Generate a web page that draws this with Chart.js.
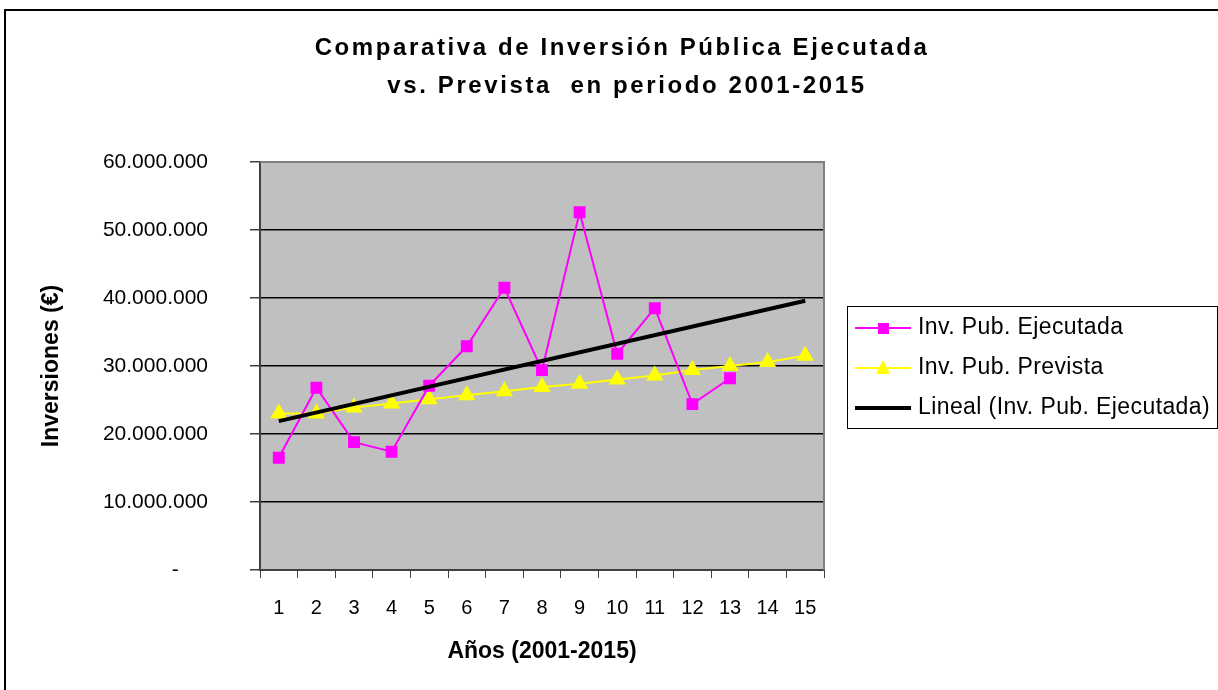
<!DOCTYPE html>
<html>
<head>
<meta charset="utf-8">
<script src="https://cdn.jsdelivr.net/npm/chart.js@4.4.1/dist/chart.umd.min.js"></script>
<style>
  html, body { margin: 0; padding: 0; background: #fff; }
  canvas { display: block; }
</style>
</head>
<body>
<canvas id="chart" width="1218" height="690"></canvas>
<script>
// Years 1..15 (2001-2015)
const years = ['1', '2', '3', '4', '5', '6', '7', '8', '9', '10', '11', '12', '13', '14', '15'];
// executed public investment (no data for 14, 15)
const ejecutada = [16500000, 26800000, 18800000, 17400000, 27100000, 32900000, 41500000, 29400000,
    52600000, 31800000, 38500000, 24400000, 28200000, null, null];
// planned public investment
const prevista = [23000000, 23000000, 23900000, 24500000, 25100000, 25700000, 26300000, 26900000,
    27400000, 28000000, 28600000, 29400000, 30000000, 30600000, 31500000];
// linear trend of the executed series, read at its two ends
const tendencia = [21900000, null, null, null, null, null, null, null,
    null, null, null, null, null, null, 39600000];
const yTicks = [0, 10000000, 20000000, 30000000, 40000000, 50000000, 60000000];
const titleLines = ['Comparativa de Inversión Pública Ejecutada', 'vs. Prevista  en periodo 2001-2015'];

const FONT = 'Liberation Sans, Arial, sans-serif';

const fmt = v => v === 0 ? '-     ' : v.toString().replace(/\B(?=(\d{3})+(?!\d))/g, '.');

// grey plot background, border, outer frame and spaced title
const plotBg = {
    id: 'plotBg',
    beforeDraw(chart) {
        const { ctx, chartArea: a } = chart;
        ctx.save();
        ctx.fillStyle = '#C0C0C0';
        ctx.fillRect(a.left, a.top, a.right - a.left, a.bottom - a.top);
        ctx.restore();
    },
    afterDraw(chart) {
        const { ctx, chartArea: a } = chart;
        ctx.save();
        ctx.strokeStyle = '#808080';
        ctx.lineWidth = 2;
        ctx.beginPath();
        ctx.moveTo(a.left, a.top);
        ctx.lineTo(a.right, a.top);
        ctx.lineTo(a.right, a.bottom);
        ctx.stroke();
        // outer chart frame
        ctx.strokeStyle = '#000';
        ctx.lineWidth = 2;
        ctx.beginPath();
        ctx.moveTo(5, 690);
        ctx.lineTo(5, 10);
        ctx.lineTo(1218, 10);
        ctx.stroke();
        // title
        ctx.fillStyle = '#000';
        ctx.font = 'bold 24px ' + FONT;
        ctx.letterSpacing = '2.6px';
        ctx.textAlign = 'center';
        ctx.textBaseline = 'middle';
        ctx.fillText(titleLines[0], 622, 48);
        ctx.fillText(titleLines[1], 627, 86);
        ctx.restore();
    }
};

// boxed legend on the right
const boxLegend = {
    id: 'boxLegend',
    afterDraw(chart) {
        const { ctx, chartArea: a } = chart;
        const x = a.right + 23, y = 306, w = 370, h = 122;
        ctx.save();
        ctx.fillStyle = '#fff';
        ctx.fillRect(x, y, w, h);
        ctx.strokeStyle = '#000';
        ctx.lineWidth = 1;
        ctx.strokeRect(x + 0.5, y + 0.5, w, h);
        const rows = [328, 368, 408];
        chart.data.datasets.forEach((ds, i) => {
            const ry = rows[i];
            ctx.strokeStyle = ds.borderColor;
            ctx.lineWidth = ds.borderWidth;
            ctx.beginPath();
            ctx.moveTo(x + 8, ry);
            ctx.lineTo(x + 64, ry);
            ctx.stroke();
            ctx.fillStyle = ds.pointBackgroundColor;
            if (ds.pointStyle === 'rect') {
                ctx.fillRect(x + 31, ry - 5, 11, 11);
            } else if (ds.pointStyle === 'triangle') {
                ctx.beginPath();
                ctx.moveTo(x + 36, ry - 8);
                ctx.lineTo(x + 43, ry + 6);
                ctx.lineTo(x + 29, ry + 6);
                ctx.closePath();
                ctx.fill();
            }
            ctx.fillStyle = '#000';
            ctx.font = '23px ' + FONT;
            ctx.letterSpacing = '0.4px';
            ctx.textBaseline = 'middle';
            ctx.textAlign = 'left';
            ctx.fillText(ds.label, x + 71, ry);
        });
        ctx.restore();
    }
};

new Chart(document.getElementById('chart'), {
    type: 'line',
    data: {
        labels: years,
        datasets: [{
            label: 'Inv. Pub. Ejecutada',
            data: ejecutada,
            borderColor: '#FF00FF',
            backgroundColor: '#FF00FF',
            pointBackgroundColor: '#FF00FF',
            pointBorderColor: '#FF00FF',
            borderWidth: 2,
            pointStyle: 'rect',
            pointRadius: 7,
            spanGaps: false,
            order: 2
        }, {
            label: 'Inv. Pub. Prevista',
            data: prevista,
            borderColor: '#FFFF00',
            backgroundColor: '#FFFF00',
            pointBackgroundColor: '#FFFF00',
            pointBorderColor: '#FFFF00',
            borderWidth: 2,
            pointStyle: 'triangle',
            pointRadius: 8,
            order: 3
        }, {
            label: 'Lineal (Inv. Pub. Ejecutada)',
            data: tendencia,
            borderColor: '#000',
            backgroundColor: '#000',
            pointBackgroundColor: '#000',
            borderWidth: 4,
            pointRadius: 0,
            spanGaps: true,
            order: 1
        }]
    },
    options: {
        responsive: false,
        animation: false,
        layout: { padding: { top: 162, left: 20, right: 394, bottom: 25 } },
        plugins: {
            legend: { display: false },
            tooltip: { enabled: false },
            title: { display: false }
        },
        scales: {
            x: {
                offset: true,
                afterFit: s => { s.height = 95; },
                grid: {
                    offset: true,
                    drawOnChartArea: false,
                    color: '#404040',
                    lineWidth: 1,
                    tickLength: 8
                },
                border: { color: '#404040', width: 2 },
                ticks: { color: '#000', font: { family: FONT, size: 20 }, padding: 18, maxRotation: 0 },
                title: {
                    display: true,
                    text: 'Años (2001-2015)',
                    color: '#000',
                    font: { family: FONT, size: 23, weight: 'bold' },
                    padding: { top: 0, bottom: 0 }
                }
            },
            y: {
                min: 0,
                max: 60000000,
                afterBuildTicks: s => { s.ticks = yTicks.map(v => ({ value: v })); },
                afterFit: s => { s.width = 240; },
                grid: {
                    color: '#000',
                    lineWidth: 1.5,
                    tickColor: '#404040',
                    tickLength: 10
                },
                border: { color: '#404040', width: 2 },
                ticks: { color: '#000', font: { family: FONT, size: 21 }, padding: 42, callback: v => fmt(v) },
                title: {
                    display: true,
                    text: 'Inversiones (€)',
                    color: '#000',
                    font: { family: FONT, size: 23, weight: 'bold' },
                    padding: { top: 18, bottom: 0 }
                }
            }
        }
    },
    plugins: [plotBg, boxLegend]
});
</script>
</body>
</html>
